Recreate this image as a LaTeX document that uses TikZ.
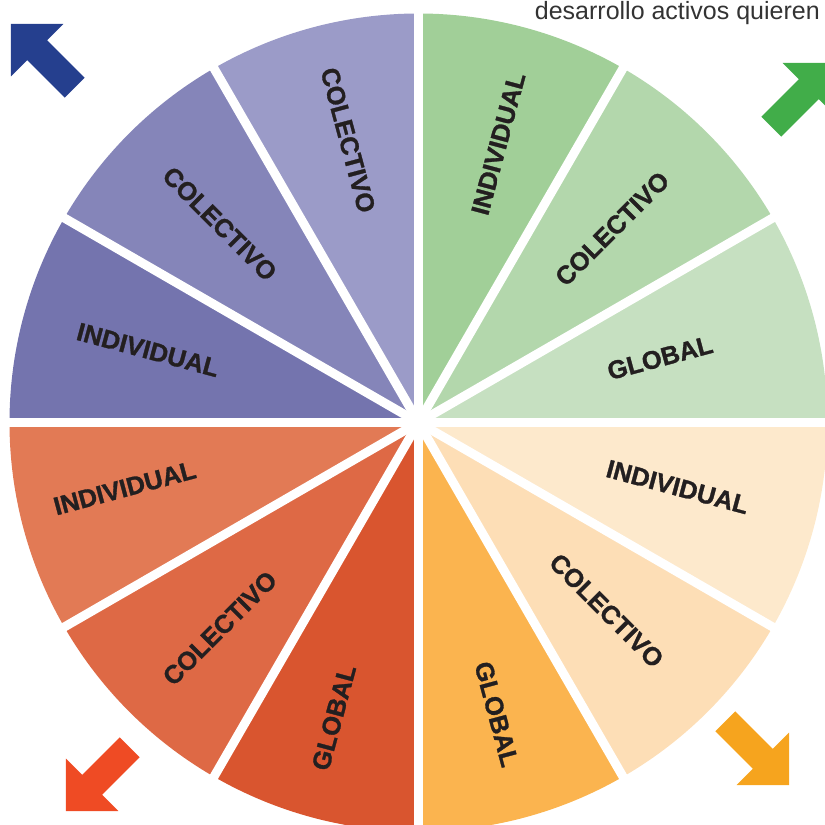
\documentclass[tikz,border=0pt]{standalone}
\usepackage{fontspec}
\setmainfont{Liberation Sans}
\newfontfamily\heavyfont{Liberation Sans Bold}[FakeBold=1.2]

\definecolor{grA}{HTML}{C6E0C1}
\definecolor{grB}{HTML}{B3D7AC}
\definecolor{grC}{HTML}{A1CF98}
\definecolor{puA}{HTML}{9B9BC8}
\definecolor{puB}{HTML}{8585B9}
\definecolor{puC}{HTML}{7474AE}
\definecolor{reA}{HTML}{E27A55}
\definecolor{reB}{HTML}{DE6945}
\definecolor{reC}{HTML}{D9552F}
\definecolor{orA}{HTML}{FBB44F}
\definecolor{orB}{HTML}{FDDEB6}
\definecolor{orC}{HTML}{FDE9CC}
\definecolor{arBlue}{HTML}{253F8E}
\definecolor{arGreen}{HTML}{41AD49}
\definecolor{arOrange}{HTML}{F6A41E}
\definecolor{arRed}{HTML}{EF4B24}
\definecolor{ink}{HTML}{231F20}

\tikzset{
  lbl/.style={text=ink, font=\heavyfont\fontsize{25.5}{25.5}\selectfont, inner sep=0pt},
  gap/.style={draw=white, line width=9pt}
}

\begin{document}
\begin{tikzpicture}[x=1pt, y=1pt]

\useasboundingbox (-418.5,-402.5) rectangle (406.5,422.5);

% sectors
\fill[grA] (0,0) -- (0:409) arc[start angle=0, end angle=30, radius=409] -- cycle;
\fill[grB] (0,0) -- (30:409) arc[start angle=30, end angle=60, radius=409] -- cycle;
\fill[grC] (0,0) -- (60:409) arc[start angle=60, end angle=90, radius=409] -- cycle;
\fill[puA] (0,0) -- (90:409) arc[start angle=90, end angle=120, radius=409] -- cycle;
\fill[puB] (0,0) -- (120:409) arc[start angle=120, end angle=150, radius=409] -- cycle;
\fill[puC] (0,0) -- (150:409) arc[start angle=150, end angle=180, radius=409] -- cycle;
\fill[reA] (0,0) -- (180:409) arc[start angle=180, end angle=210, radius=409] -- cycle;
\fill[reB] (0,0) -- (210:409) arc[start angle=210, end angle=240, radius=409] -- cycle;
\fill[reC] (0,0) -- (240:409) arc[start angle=240, end angle=270, radius=409] -- cycle;
\fill[orA] (0,0) -- (270:409) arc[start angle=270, end angle=300, radius=409] -- cycle;
\fill[orB] (0,0) -- (300:409) arc[start angle=300, end angle=330, radius=409] -- cycle;
\fill[orC] (0,0) -- (330:409) arc[start angle=330, end angle=360, radius=409] -- cycle;

% white gaps
\draw[gap] (0,0) -- (0:420);
\draw[gap] (0,0) -- (30:420);
\draw[gap] (0,0) -- (60:420);
\draw[gap] (0,0) -- (90:420);
\draw[gap] (0,0) -- (120:420);
\draw[gap] (0,0) -- (150:420);
\draw[gap] (0,0) -- (180:420);
\draw[gap] (0,0) -- (210:420);
\draw[gap] (0,0) -- (240:420);
\draw[gap] (0,0) -- (270:420);
\draw[gap] (0,0) -- (300:420);
\draw[gap] (0,0) -- (330:420);

% labels
\node[lbl, rotate=15] (glob1) at (15:250) {GLOBAL};
\node[lbl, rotate=45] (cole1) at (45:274) {COLECTIVO};
\node[lbl, rotate=75] (indi1) at (74:290) {INDIVIDUAL};
\node[lbl, rotate=-75] (cole2) at (104:291) {COLECTIVO};
\node[lbl, rotate=-45] (cole3) at (135:281) {COLECTIVO};
\node[lbl, rotate=-15] (indi2) at (165:280) {INDIVIDUAL};
\node[lbl, rotate=15] (indi3) at (192.6:301) {INDIVIDUAL};
\node[lbl, rotate=45] (cole4) at (226:286) {COLECTIVO};
\node[lbl, rotate=75] (glob2) at (254:307) {GLOBAL};
\node[lbl, rotate=-75] (glob3) at (285:302) {GLOBAL};
\node[lbl, rotate=-45] (cole5) at (315:266) {COLECTIVO};
\node[lbl, rotate=-15] (indi4) at (346:267) {INDIVIDUAL};

% corner arrows
\fill[arBlue, shift={(-407.5,398.5)}, rotate=135] (0,0) -- (-37,37) -- (-37,14) -- (-90,14) -- (-90,-14) -- (-37,-14) -- (-37,-37) -- cycle;
\fill[arGreen, shift={(416.5,359.5)}, rotate=45] (0,0) -- (-37,37) -- (-37,14) -- (-90,14) -- (-90,-14) -- (-37,-14) -- (-37,-37) -- cycle;
\fill[arOrange, shift={(370.5,-362.5)}, rotate=-45] (0,0) -- (-37,37) -- (-37,14) -- (-90,14) -- (-90,-14) -- (-37,-14) -- (-37,-37) -- cycle;
\fill[arRed, shift={(-352.5,-388.5)}, rotate=-135] (0,0) -- (-37,37) -- (-37,14) -- (-90,14) -- (-90,-14) -- (-37,-14) -- (-37,-37) -- cycle;

% top text
\node[anchor=base east, inner sep=0pt, text=black!80, font=\fontsize{25}{25}\selectfont] (caption) at (401.5,402.5) {desarrollo activos quieren};

\end{tikzpicture}
\end{document}
